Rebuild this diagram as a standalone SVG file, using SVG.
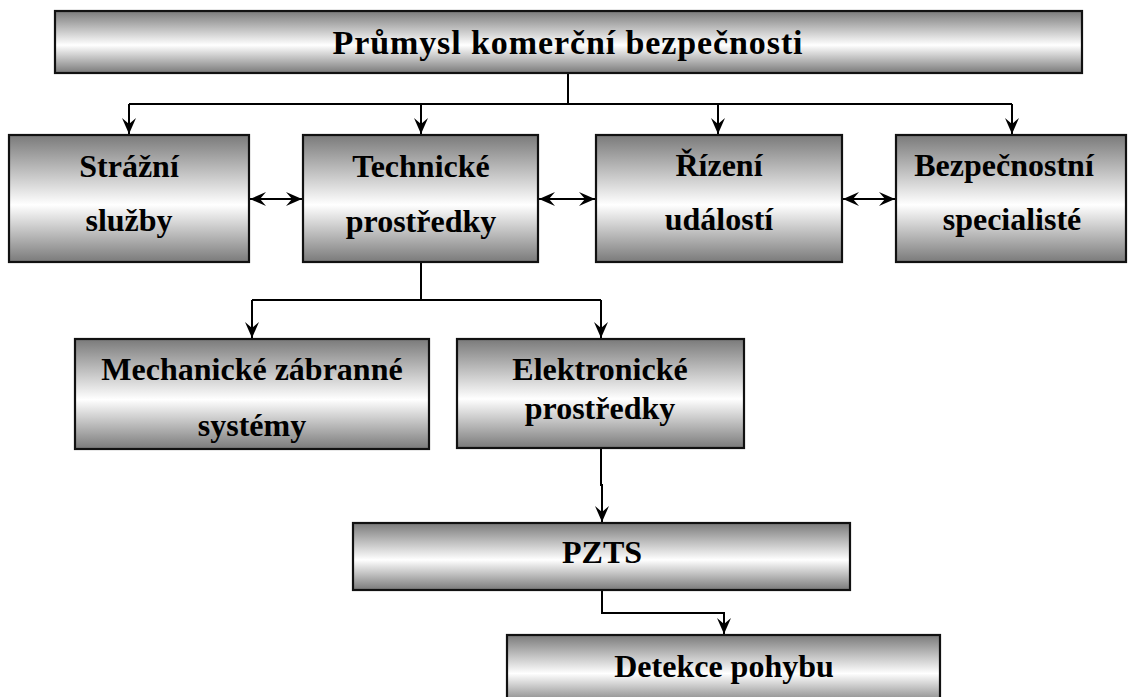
<svg xmlns="http://www.w3.org/2000/svg" width="1128" height="697" viewBox="0 0 1128 697">
<style>
.box{fill:url(#g);stroke:#111;stroke-width:2.2}
.t{font-family:"Liberation Serif","Times New Roman",serif;font-weight:bold;font-size:32px;fill:#000;text-anchor:middle}
.c{fill:none;stroke:#000;stroke-width:2}
</style>
<defs>
<linearGradient id="g" x1="0" y1="0" x2="0" y2="1">
<stop offset="0" stop-color="#7a7a7a"/>
<stop offset="0.55" stop-color="#ffffff"/>
<stop offset="1" stop-color="#7a7a7a"/>
</linearGradient>
<marker id="a" viewBox="-17 -8 18 16" refX="0" refY="0" markerWidth="18" markerHeight="16" markerUnits="userSpaceOnUse" orient="auto-start-reverse">
<path d="M0,0 L-16,-7 L-10,0 L-16,7 Z" fill="#000"/>
</marker>
</defs>
<rect width="1128" height="697" fill="#fff"/>
<g id="connectors">
<path class="c" d="M568,73 V104 M129,104 H1012"/>
<path class="c" d="M129,104 V134" marker-end="url(#a)"/>
<path class="c" d="M421,104 V134" marker-end="url(#a)"/>
<path class="c" d="M718,104 V134" marker-end="url(#a)"/>
<path class="c" d="M1012,104 V134" marker-end="url(#a)"/>
<path class="c" d="M250,199 H302" marker-start="url(#a)" marker-end="url(#a)"/>
<path class="c" d="M539,199 H595" marker-start="url(#a)" marker-end="url(#a)"/>
<path class="c" d="M843,199 H895" marker-start="url(#a)" marker-end="url(#a)"/>
<path class="c" d="M421,262 V300 M252,300 H601"/>
<path class="c" d="M252,300 V338" marker-end="url(#a)"/>
<path class="c" d="M601,300 V338" marker-end="url(#a)"/>
<path class="c" d="M601,448 V485 H602 V522" marker-end="url(#a)"/>
<path class="c" d="M602,590 V613 H724 V634" marker-end="url(#a)"/>
</g>
<g id="n-prumysl">
<rect class="box" x="55" y="11" width="1027" height="62"/>
<text class="t" x="568" y="54" style="font-size:34px;letter-spacing:0.9px">Průmysl komerční bezpečnosti</text>
</g>
<g id="n-strazni">
<rect class="box" x="9" y="135" width="240" height="127"/>
<text class="t" x="129" y="177">Strážní</text>
<text class="t" x="129" y="231">služby</text>
</g>
<g id="n-technicke">
<rect class="box" x="303" y="135" width="235" height="127"/>
<text class="t" x="421" y="177">Technické</text>
<text class="t" x="421" y="232">prostředky</text>
</g>
<g id="n-rizeni">
<rect class="box" x="596" y="135" width="246" height="127"/>
<text class="t" x="719" y="176">Řízení</text>
<text class="t" x="719" y="230">událostí</text>
</g>
<g id="n-bezpecnostni">
<rect class="box" x="896" y="135" width="230" height="127"/>
<text class="t" x="1004" y="176">Bezpečnostní</text>
<text class="t" x="1012" y="230">specialisté</text>
</g>
<g id="n-mechanicke">
<rect class="box" x="75" y="339" width="354" height="110"/>
<text class="t" x="252" y="380">Mechanické zábranné</text>
<text class="t" x="252" y="436">systémy</text>
</g>
<g id="n-elektronicke">
<rect class="box" x="457" y="339" width="287" height="109"/>
<text class="t" x="600" y="380">Elektronické</text>
<text class="t" x="600" y="419">prostředky</text>
</g>
<g id="n-pzts">
<rect class="box" x="353" y="523" width="497" height="67"/>
<text class="t" x="602" y="563">PZTS</text>
</g>
<g id="n-detekce">
<rect class="box" x="507" y="635" width="433" height="70"/>
<text class="t" x="724" y="677">Detekce pohybu</text>
</g>
</svg>
